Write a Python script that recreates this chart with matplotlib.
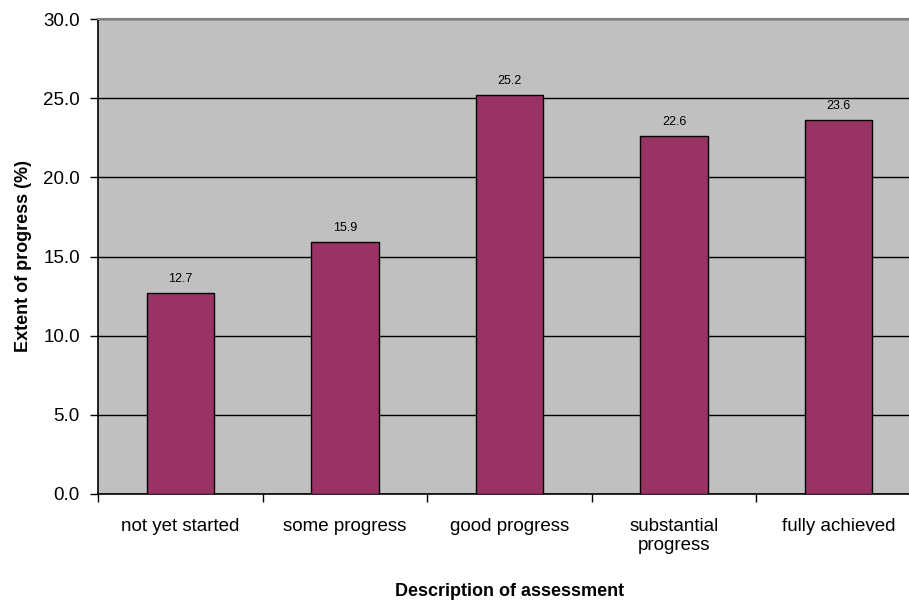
import matplotlib
matplotlib.use("Agg")
import matplotlib.pyplot as plt

categories = ["not yet started", "some progress", "good progress", "substantial\nprogress", "fully achieved"]
values = [12.7, 15.9, 25.2, 22.6, 23.6]
y_ticks = [0, 5, 10, 15, 20, 25, 30]

plt.rcParams["font.family"] = ["Liberation Sans", "DejaVu Sans"]

fig = plt.figure(figsize=(9.09, 6.02), dpi=100)
# plot area runs a little past the right edge of the figure
ax = fig.add_axes([98 / 909, 1 - 494 / 602, 823 / 909, 475 / 602])
ax.set_facecolor("#C0C0C0")

x = list(range(len(categories)))
bars = ax.bar(x, values, width=0.41, color="#993366", edgecolor="black", linewidth=1.0, zorder=3)

for b, v in zip(bars, values):
    ax.annotate(f"{v:.1f}", (b.get_x() + b.get_width() / 2, v), xytext=(0, 6),
                textcoords="offset points", ha="center", va="bottom", fontsize=9, zorder=4)

ax.set_xlim(-0.5, len(categories) - 0.5)
ax.set_ylim(0, 30)
ax.set_yticks(y_ticks)
ax.set_yticklabels([f"{t:.1f}" for t in y_ticks], fontsize=13.5)
ax.yaxis.grid(True, color="black", linewidth=1.0, zorder=1)
ax.set_axisbelow(True)

# category ticks sit between bars, labels centred under each bar
ax.set_xticks([i - 0.5 for i in range(len(categories) + 1)])
ax.set_xticklabels([])
ax.set_xticks(x, minor=True)
ax.set_xticklabels(categories, minor=True, fontsize=13.5)
ax.tick_params(axis="x", which="minor", length=0, pad=17)
ax.tick_params(axis="x", which="major", direction="out", length=6, width=1)
ax.tick_params(axis="y", direction="out", length=6, width=1, pad=7)

ax.spines["right"].set_visible(False)
ax.spines["top"].set_color("#808080")
ax.spines["top"].set_linewidth(1.5)
ax.spines["left"].set_linewidth(1.2)
ax.spines["bottom"].set_linewidth(1.2)

ax.set_ylabel("Extent of progress (%)", fontsize=13, fontweight="bold", labelpad=8)
ax.set_xlabel("Description of assessment", fontsize=13, fontweight="bold", labelpad=21)

fig.savefig("out.png", dpi=100)
